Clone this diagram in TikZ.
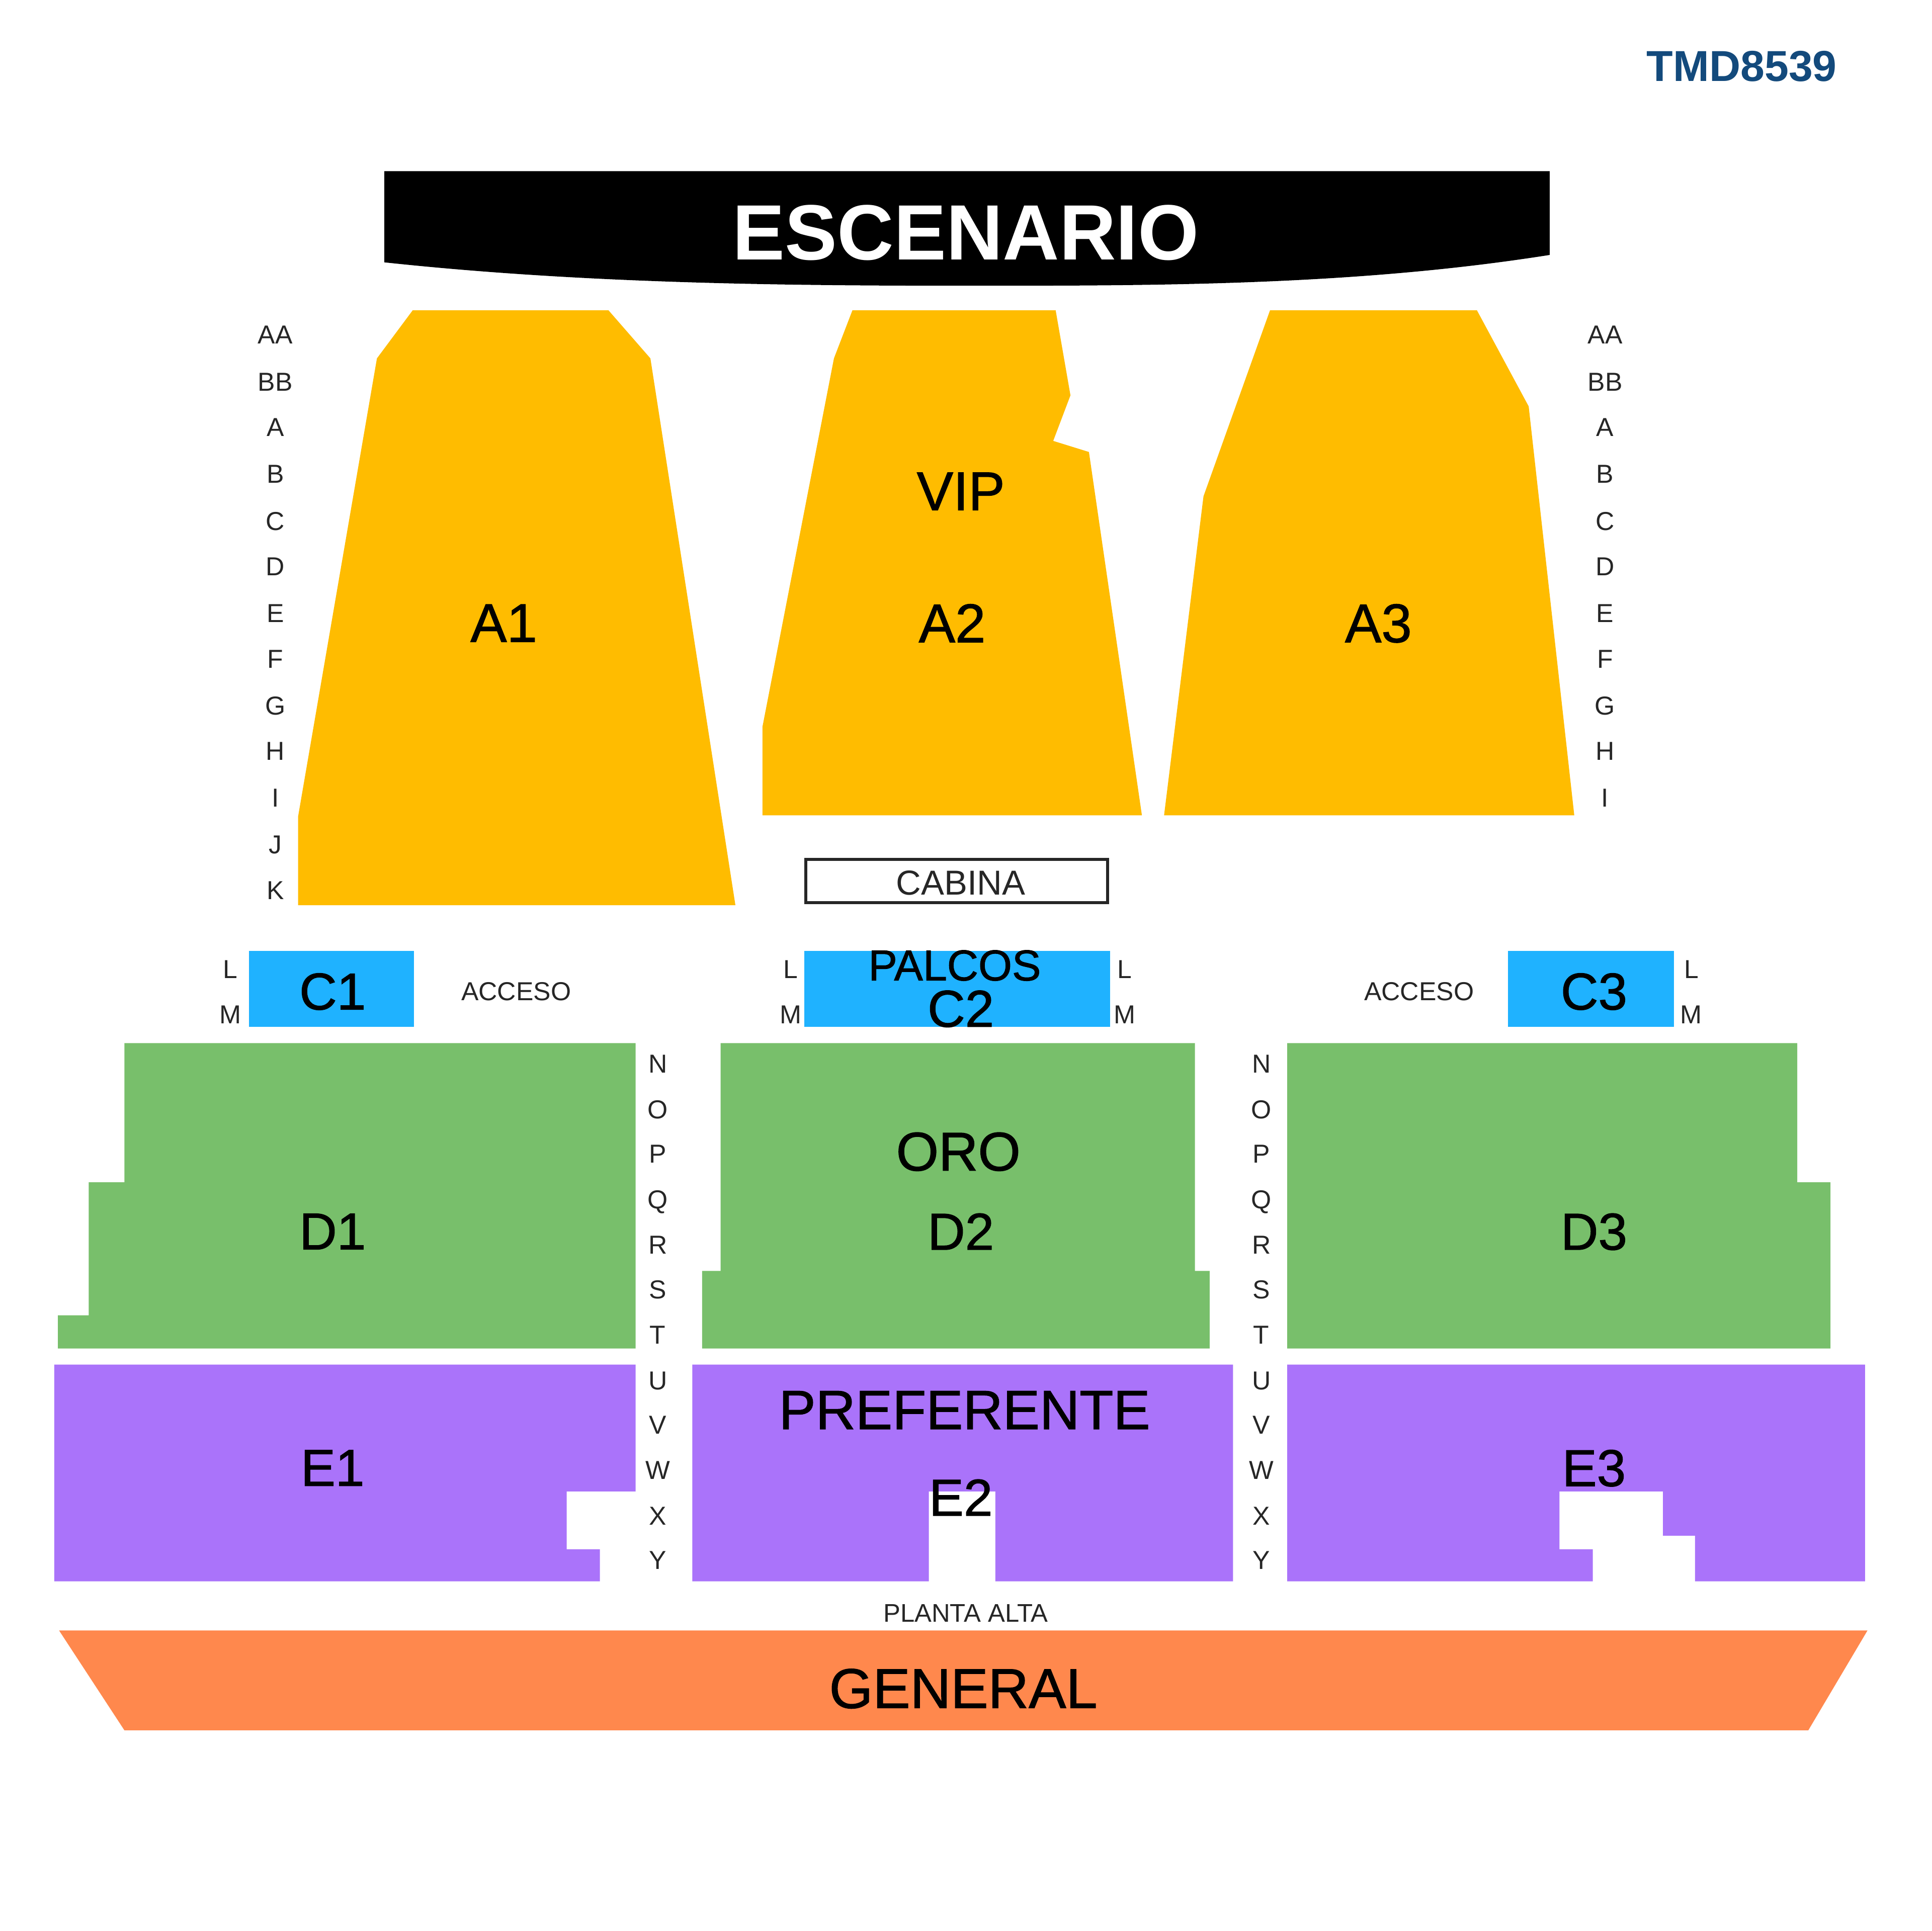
\documentclass[tikz,border=0pt]{standalone}
\usepackage{fontspec}
\setmainfont{Liberation Sans}
\newfontfamily\zonefont[FakeBold=1.2]{Liberation Sans}
\definecolor{seatA}{HTML}{FFBC00}
\definecolor{seatC}{HTML}{1FB2FF}
\definecolor{seatD}{HTML}{78BF6B}
\definecolor{seatE}{HTML}{AA73FA}
\definecolor{seatG}{HTML}{FF884D}
\definecolor{codeblue}{HTML}{134A7C}
\tikzset{
	zone/.style={font=\zonefont\fontsize{12.6}{14}\selectfont, inner sep=0pt, text depth=0pt},
	zonesmall/.style={font=\zonefont\fontsize{12}{14}\selectfont, inner sep=0pt, text depth=0pt},
	rowmark/.style={font=\fontsize{6}{7}\selectfont, inner sep=0pt, text depth=0pt, text=black!85},
	smallmark/.style={font=\fontsize{6}{8}\selectfont, inner sep=0pt, text depth=0pt, text=black!85}
}

\begin{document}
\begin{tikzpicture}[x=0.01cm, y=-0.01cm]
	%%%%% START %%%%%
	\useasboundingbox (0, 0) rectangle (1568, 1568);
	\fill[white] (0, 0) rectangle (1568, 1568);

	\node[font=\bfseries\fontsize{10}{12}\selectfont, text=codeblue, inner sep=0pt] (code) at (1414, 54) {TMD8539};

	% stage
	\fill[black] (312, 139) -- (1258, 139) -- (1258, 207) .. controls (1100, 232) and (940, 232) .. (785, 232) .. controls (630, 232) and (470, 230) .. (312, 213) -- cycle;
	\node[font=\bfseries\fontsize{18.1}{20}\selectfont, text=white, inner sep=0pt] (stage) at (784, 189) {ESCENARIO};

	% floor
	\fill[seatA] (335, 252) -- (494, 252) -- (528, 291) -- (597, 735) -- (242, 735) -- (242, 663) -- (306, 291) -- cycle;
	\fill[seatA] (692, 252) -- (857, 252) -- (869, 321) -- (855, 358) -- (884, 367) -- (927, 662) -- (619, 662) -- (619, 590) -- (677, 291) -- cycle;
	\fill[seatA] (1031, 252) -- (1199, 252) -- (1241, 330) -- (1278, 662) -- (945, 662) -- (977, 403) -- cycle;
	\node[zone] (vip) at (780, 399) {VIP};
	\node[zone] (a1) at (409, 506) {A1};
	\node[zone] (a2) at (773, 506) {A2};
	\node[zone] (a3) at (1119, 506) {A3};

	\draw[line width=0.25mm, black!85] (654, 698) rectangle (899, 733);
	\node[font=\fontsize{8}{10}\selectfont, inner sep=0pt, text=black!85] (cabina) at (780, 717) {CABINA};

	% boxes
	\fill[seatC] (202, 772) rectangle (336, 834);
	\fill[seatC] (653, 772) rectangle (901, 834);
	\fill[seatC] (1224, 772) rectangle (1359, 834);
	\node[zonesmall] (c1) at (270, 805) {C1};
	\node[font=\zonefont\fontsize{10}{12}\selectfont, inner sep=0pt] (palcos) at (775, 784) {PALCOS};
	\node[zonesmall] (c2) at (780, 819) {C2};
	\node[zonesmall] (c3) at (1294, 805) {C3};
	\node[smallmark] (accesoL) at (419, 805) {ACCESO};
	\node[smallmark] (accesoR) at (1152, 805) {ACCESO};

	\fill[seatD] (101, 847) -- (516, 847) -- (516, 1095) -- (47, 1095) -- (47, 1068) -- (72, 1068) -- (72, 960) -- (101, 960) -- cycle;
	\fill[seatD] (585, 847) -- (970, 847) -- (970, 1032) -- (982, 1032) -- (982, 1095) -- (570, 1095) -- (570, 1032) -- (585, 1032) -- cycle;
	\fill[seatD] (1045, 847) -- (1459, 847) -- (1459, 960) -- (1486, 960) -- (1486, 1095) -- (1045, 1095) -- cycle;
	\node[zone] (oro) at (778, 935) {ORO};
	\node[zonesmall] (d1) at (270, 1000) {D1};
	\node[zonesmall] (d2) at (780, 1000) {D2};
	\node[zonesmall] (d3) at (1294, 1000) {D3};

	\fill[seatE] (44, 1108) -- (516, 1108) -- (516, 1211) -- (460, 1211) -- (460, 1258) -- (487, 1258) -- (487, 1284) -- (44, 1284) -- cycle;
	\fill[seatE] (562, 1108) -- (1001, 1108) -- (1001, 1284) -- (808, 1284) -- (808, 1211) -- (754, 1211) -- (754, 1284) -- (562, 1284) -- cycle;
	\fill[seatE] (1045, 1108) -- (1514, 1108) -- (1514, 1284) -- (1376, 1284) -- (1376, 1247) -- (1350, 1247) -- (1350, 1211) -- (1266, 1211) -- (1266, 1258) -- (1293, 1258) -- (1293, 1284) -- (1045, 1284) -- cycle;
	\node[font=\zonefont\fontsize{12.75}{14}\selectfont, inner sep=0pt, text depth=0pt] (pref) at (783, 1145) {PREFERENTE};
	\node[zonesmall] (e1) at (270, 1192) {E1};
	\node[zonesmall] (e2) at (780, 1216) {E2};
	\node[zonesmall] (e3) at (1294, 1192) {E3};

	\node[font=\fontsize{5.9}{7}\selectfont, inner sep=0pt, text=black!85] (alta) at (784, 1310) {PLANTA ALTA};
	\fill[seatG] (48, 1324) -- (1516, 1324) -- (1468, 1405) -- (101, 1405) -- cycle;
	\node[font=\zonefont\fontsize{12.95}{14}\selectfont, inner sep=0pt, text depth=0pt] (general) at (782, 1371) {GENERAL};

	% row letters
	\foreach \row/\ypos in {AA/272, BB/310, A/347, B/385, C/423, D/460, E/498, F/535, G/573, H/610, I/648} {
		\node[rowmark] (left\row) at (223.5, \ypos) {\row};
		\node[rowmark] (right\row) at (1303, \ypos) {\row};
	}
	\node[rowmark] (leftJ) at (223.5, 686) {J};
	\node[rowmark] (leftK) at (223.5, 723) {K};
	\foreach \row/\ypos in {N/864, O/901, P/937, Q/974, R/1011, S/1047, T/1084, U/1121, V/1157, W/1194, X/1231, Y/1267} {
		\node[rowmark] (aisleL\row) at (534, \ypos) {\row};
		\node[rowmark] (aisleR\row) at (1024, \ypos) {\row};
	}
	\foreach \xpos [count=\i] in {187, 642, 913, 1373} {
		\node[rowmark] (rowL\i) at (\xpos, 787) {L};
		\node[rowmark] (rowM\i) at (\xpos, 824) {M};
	}
	%%%%% END %%%%%
\end{tikzpicture}
\end{document}
